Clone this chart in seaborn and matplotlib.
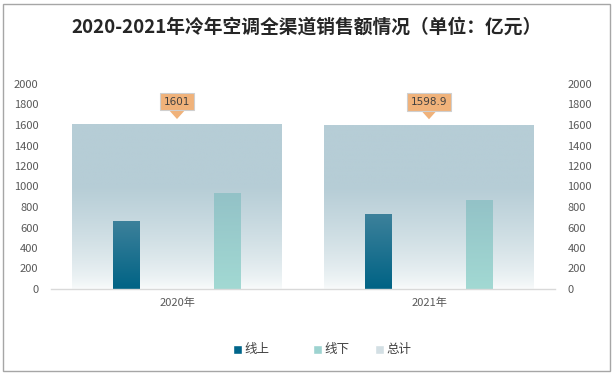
import numpy as np
import pandas as pd
import matplotlib
matplotlib.use("Agg")
import matplotlib.pyplot as plt
import seaborn as sns
from matplotlib.colors import to_rgb
from matplotlib.patches import Patch, Rectangle

years = ["2020年", "2021年"]
online = [660, 727]
offline = [935, 866]
total = [1601, 1598.9]
total_labels = ["1601", "1598.9"]
channels = ["线上", "线下"]
legend_labels = ["线上", "线下", "总计"]
yticks = [0, 200, 400, 600, 800, 1000, 1200, 1400, 1600, 1800, 2000]

sns.set_theme(style="white")
plt.rcParams["font.family"] = ["Noto Sans CJK SC", "DejaVu Sans"]

fig = plt.figure(figsize=(6.14, 3.75), dpi=100)
ax = fig.add_axes([51 / 614, 86 / 375, 504 / 614, 205 / 375])

df_total = pd.DataFrame({"year": years, "total": total})
df_ch = pd.DataFrame({
    "year": years * 2,
    "channel": [channels[0]] * 2 + [channels[1]] * 2,
    "value": online + offline,
})

sns.barplot(data=df_total, x="year", y="total", width=0.833, color="#B6CDD6",
            ax=ax, zorder=1)
n_total = len(ax.patches)
sns.barplot(data=df_ch, x="year", y="value", hue="channel", hue_order=channels,
            width=0.8, gap=0.74, palette=["#00658A", "#9DD3D0"], ax=ax,
            legend=False, zorder=2)

def grad(patch, top, bottom, profile=None, z=1):
    x, y = patch.get_x(), patch.get_y()
    w, h = patch.get_width(), patch.get_height()
    t = np.linspace(0, 1, 256)
    if profile is not None:
        t = profile(t)
    c0 = np.array(to_rgb(bottom)); c1 = np.array(to_rgb(top))
    arr = c0[None, :] * (1 - t[:, None]) + c1[None, :] * t[:, None]
    arr = arr[:, None, :]
    ax.imshow(arr, extent=[x, x + w, y, y + h], origin="lower", aspect="auto",
              zorder=z, interpolation="bilinear")
    patch.set_facecolor("none")
    patch.set_edgecolor("none")

patches = ax.patches
for p in patches[:n_total]:
    grad(p, "#B6CDD6", "#FAFCFC", profile=lambda t: np.clip(t * 1.6, 0, 1) ** 0.7, z=1)
ch_patches = patches[n_total:]
for i, p in enumerate(ch_patches):
    if i < 2:
        grad(p, "#3D819B", "#006385", z=2)
    else:
        grad(p, "#93C2C7", "#A2D9D3", z=2)

ax.set_xlim(-0.5, 1.5)
ax.set_ylim(0, 2000)
ax.set_yticks(yticks)
ax.set_yticklabels([str(v) for v in yticks])
ax.set_xlabel("")
ax.set_ylabel("")
for s in ["top", "left", "right"]:
    ax.spines[s].set_visible(False)
ax.spines["bottom"].set_color("#D9D9D9")
ax.spines["bottom"].set_linewidth(1)
ax.tick_params(axis="y", length=0, labelsize=8, labelcolor="#595959", pad=9)
ax.tick_params(axis="x", length=0, labelsize=8, labelcolor="#595959", pad=6)

ax2 = ax.twinx()
ax2.set_ylim(0, 2000)
ax2.set_yticks(yticks)
ax2.set_yticklabels([str(v) for v in yticks])
for s in ax2.spines.values():
    s.set_visible(False)
ax2.tick_params(axis="y", length=0, labelsize=8, labelcolor="#595959", pad=9)

# callouts
for i, (v, lab) in enumerate(zip(total, total_labels)):
    ax.annotate("", xy=(i, v + 30), xytext=(i, v + 160),
                arrowprops=dict(arrowstyle="simple,head_length=0.5,head_width=0.9,tail_width=0.45",
                                fc="#F0B27A", ec="#F0B27A", lw=0),
                zorder=4)
    ax.text(i, v + 225, lab, ha="center", va="center", fontsize=7.5, color="#404040",
            family=["DejaVu Sans"], zorder=5,
            bbox=dict(boxstyle="square,pad=0.35", fc="#F0B27A", ec="#CFCFCF", lw=0.8))

fig.suptitle("2020-2021年冷年空调全渠道销售额情况（单位：亿元）", y=1 - 27 / 375,
             va="center", fontsize=13.5, fontweight="bold", color="#262626")

handle_colors = ["#00658A", "#9DD3D0", "#D3DFE4"]
legend_x = [233, 313, 375]
for lab, col, xp in zip(legend_labels, handle_colors, legend_x):
    fig.legend([Patch(facecolor=col)], [lab], loc="center left",
               bbox_to_anchor=(xp / 614, 1 - 350 / 375), frameon=False, fontsize=9,
               handlelength=0.7, handleheight=0.7, handletextpad=0.2,
               borderpad=0, borderaxespad=0, labelcolor="#404040")

fig.patches.append(Rectangle((3 / 614, 4 / 375), 607 / 614, 367 / 375, transform=fig.transFigure,
                             fill=False, ec="#A6A6A6", lw=1))

fig.savefig("out.png", dpi=100, facecolor="white")
